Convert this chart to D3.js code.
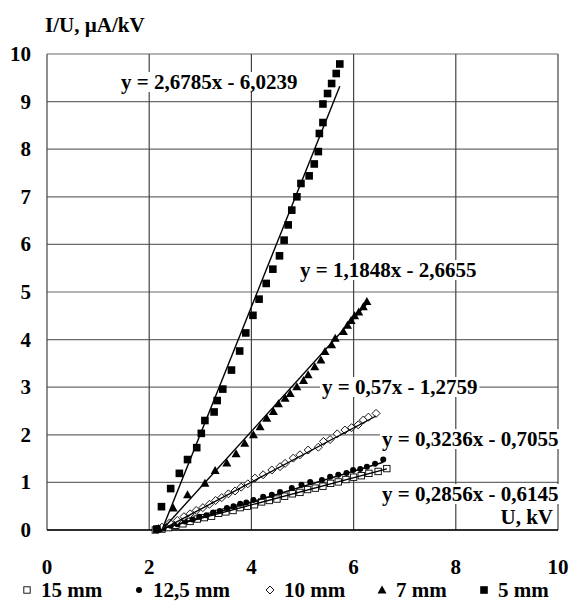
<!DOCTYPE html>
<html>
<head>
<meta charset="utf-8">
<script src="https://cdn.jsdelivr.net/npm/d3@7/dist/d3.min.js"></script>
<style>
  body { margin: 0; background: #fff; }
  text { font-family: "Liberation Serif", "Times New Roman", serif; font-weight: bold; fill: #000; }
</style>
</head>
<body>
<svg id="chart" width="571" height="601"></svg>
<script>
// series (U in kV, I/U in uA/kV)
var names = ["15 mm", "12,5 mm", "10 mm", "7 mm", "5 mm"];
var symbols = ["squareOpen", "circle", "diamondOpen", "triangle", "square"];

var u15 = [2.12,2.25,2.38,2.52,2.66,2.80,2.94,3.08,3.22,3.36,3.50,3.64,3.78,3.92,4.06,4.20,4.35,4.50,4.65,4.80,4.95,5.10,5.25,5.40,5.55,5.70,5.85,6.00,6.15,6.30,6.48,6.65];
var v15 = [0.00,0.02,0.05,0.10,0.13,0.18,0.23,0.26,0.29,0.35,0.38,0.41,0.47,0.50,0.53,0.59,0.62,0.65,0.71,0.76,0.79,0.85,0.88,0.92,0.98,1.01,1.06,1.11,1.14,1.19,1.23,1.29];

var u125 = [2.15,2.28,2.42,2.55,2.70,2.85,2.98,3.12,3.25,3.38,3.52,3.65,3.78,3.90,4.04,4.23,4.40,4.56,4.79,4.98,5.15,5.38,5.54,5.70,5.86,5.99,6.13,6.26,6.42,6.58];
var v125 = [0.00,0.03,0.09,0.12,0.18,0.22,0.28,0.31,0.37,0.40,0.46,0.50,0.55,0.58,0.63,0.70,0.74,0.80,0.88,0.95,1.01,1.05,1.12,1.16,1.20,1.26,1.28,1.33,1.39,1.48];

var u10 = [2.15,2.25,2.40,2.55,2.68,2.80,2.92,3.05,3.18,3.30,3.42,3.55,3.68,3.80,3.93,4.07,4.23,4.40,4.56,4.66,4.82,4.95,5.11,5.31,5.41,5.54,5.68,5.83,5.96,6.09,6.19,6.29,6.44];
var v10 = [0.02,0.06,0.15,0.20,0.28,0.34,0.41,0.47,0.54,0.62,0.68,0.76,0.82,0.90,0.97,1.09,1.16,1.26,1.33,1.40,1.51,1.58,1.68,1.74,1.86,1.90,2.02,2.10,2.15,2.21,2.31,2.37,2.45];

var u7 = [2.18,2.47,2.75,3.09,3.29,3.52,3.70,3.87,4.04,4.17,4.30,4.43,4.53,4.66,4.76,4.89,5.02,5.11,5.24,5.36,5.44,5.57,5.64,5.80,5.88,5.95,6.02,6.10,6.19,6.26];
var v7 = [0.03,0.46,0.74,0.98,1.25,1.41,1.60,1.82,2.00,2.17,2.35,2.49,2.65,2.77,2.87,3.01,3.14,3.26,3.43,3.57,3.75,3.89,4.03,4.17,4.30,4.40,4.50,4.58,4.69,4.80];

var u5 = [2.15,2.24,2.42,2.59,2.75,2.93,3.02,3.09,3.27,3.33,3.44,3.61,3.77,3.89,4.03,4.15,4.29,4.42,4.55,4.64,4.72,4.79,4.89,4.97,5.13,5.23,5.31,5.33,5.40,5.40,5.49,5.57,5.66,5.73];
var v5 = [0.02,0.49,0.87,1.19,1.48,1.73,2.03,2.30,2.48,2.72,2.96,3.36,3.76,4.14,4.51,4.85,5.18,5.48,5.76,6.09,6.41,6.72,7.00,7.28,7.44,7.69,7.95,8.33,8.56,8.95,9.17,9.38,9.59,9.79];

// linear trendlines as printed on the chart
var slopes = [0.2856, 0.3236, 0.57, 1.1848, 2.6785];
var intercepts = [-0.6145, -0.7055, -1.2759, -2.6655, -6.0239];
var equations = ["y = 0,2856x - 0,6145", "y = 0,3236x - 0,7055", "y = 0,57x - 1,2759", "y = 1,1848x - 2,6655", "y = 2,6785x - 6,0239"];

var xTicks = [0, 2, 4, 6, 8, 10];
var yTicks = [0, 1, 2, 3, 4, 5, 6, 7, 8, 9, 10];

var us = [u15, u125, u10, u7, u5];
var vs = [v15, v125, v10, v7, v5];

var svg = d3.select("#chart");
var plotLeft = 47, plotRight = 558, plotTop = 54, plotBottom = 530;
var fontSize = 21;

var xScale = d3.scaleLinear().domain([0, 10]).range([plotLeft, plotRight]);
var yScale = d3.scaleLinear().domain([0, 10]).range([plotBottom, plotTop]);

// grid
svg.append("g").selectAll("line")
  .data(yTicks)
  .enter().append("line")
    .attr("x1", plotLeft).attr("x2", plotRight)
    .attr("y1", function(d){ return yScale(d); })
    .attr("y2", function(d){ return yScale(d); })
    .attr("stroke", "#6a6a6a")
    .attr("stroke-width", 1.2);

svg.append("g").selectAll("line")
  .data(xTicks)
  .enter().append("line")
    .attr("x1", function(d){ return xScale(d); })
    .attr("x2", function(d){ return xScale(d); })
    .attr("y1", plotTop).attr("y2", plotBottom)
    .attr("stroke", "#444")
    .attr("stroke-width", 1.2);

svg.append("line")
  .attr("x1", plotLeft).attr("x2", plotRight)
  .attr("y1", plotBottom).attr("y2", plotBottom)
  .attr("stroke", "#000").attr("stroke-width", 1.5);

// tick labels
svg.append("g").selectAll("text")
  .data(yTicks)
  .enter().append("text")
    .attr("x", 31)
    .attr("y", function(d){ return yScale(d) + 7; })
    .attr("text-anchor", "end")
    .attr("font-size", fontSize)
    .text(function(d){ return d; });

svg.append("g").selectAll("text")
  .data(xTicks)
  .enter().append("text")
    .attr("x", function(d){ return xScale(d); })
    .attr("y", 574)
    .attr("text-anchor", "middle")
    .attr("font-size", fontSize)
    .text(function(d){ return d; });

// clip for trendlines
svg.append("clipPath").attr("id", "plotclip")
  .append("rect")
    .attr("x", plotLeft).attr("y", plotTop)
    .attr("width", plotRight - plotLeft).attr("height", plotBottom - plotTop);

var line = d3.line()
  .x(function(d){ return xScale(d[0]); })
  .y(function(d){ return yScale(d[1]); });

var markerFns = {
  squareOpen: function(g, x, y){ g.append("rect").attr("x", x-3.2).attr("y", y-3.2).attr("width", 6.4).attr("height", 6.4).attr("fill", "#fff").attr("stroke", "#000").attr("stroke-width", 0.9); },
  circle: function(g, x, y){ g.append("circle").attr("cx", x).attr("cy", y).attr("r", 3).attr("fill", "#000"); },
  diamondOpen: function(g, x, y){ g.append("path").attr("d", "M" + x + "," + (y-4) + "L" + (x+4) + "," + y + "L" + x + "," + (y+4) + "L" + (x-4) + "," + y + "Z").attr("fill", "#fff").attr("stroke", "#000").attr("stroke-width", 0.9); },
  triangle: function(g, x, y){ g.append("path").attr("d", "M" + x + "," + (y-4.5) + "L" + (x+4.5) + "," + (y+3.5) + "L" + (x-4.5) + "," + (y+3.5) + "Z").attr("fill", "#000"); },
  square: function(g, x, y){ g.append("rect").attr("x", x-3.8).attr("y", y-3.8).attr("width", 7.6).attr("height", 7.6).attr("fill", "#000"); }
};

// points and trendlines, 15 mm first so 5 mm is drawn on top
for(var i = 0; i < names.length; i++){
  var g = svg.append("g").attr("class", "series");
  for(var j = 0; j < us[i].length; j++){
    markerFns[symbols[i]](g, xScale(us[i][j]), yScale(vs[i][j]));
  }
  var x0 = d3.min(us[i]), x1 = d3.max(us[i]);
  svg.append("path")
    .datum([[x0, slopes[i]*x0 + intercepts[i]], [x1, slopes[i]*x1 + intercepts[i]]])
    .attr("clip-path", "url(#plotclip)")
    .attr("d", line)
    .attr("fill", "none")
    .attr("stroke", "#000")
    .attr("stroke-width", 1.4);
}

// equation labels with white boxes
var eqX = [382, 382, 322, 300, 121];
var eqY = [501, 446, 394, 277, 89];
for(var i = 0; i < equations.length; i++){
  var t = svg.append("text")
    .attr("x", eqX[i])
    .attr("y", eqY[i])
    .attr("font-size", fontSize)
    .text(equations[i]);
  var bb = t.node().getBBox();
  svg.insert("rect", function(){ return t.node(); })
    .attr("x", bb.x - 2).attr("y", bb.y + 2)
    .attr("width", bb.width + 4).attr("height", bb.height - 4)
    .attr("fill", "#fff");
}

// axis titles
var ux = svg.append("text")
  .attr("x", 553).attr("y", 524)
  .attr("text-anchor", "end")
  .attr("font-size", fontSize)
  .text("U, kV");
var ub = ux.node().getBBox();
svg.insert("rect", function(){ return ux.node(); })
  .attr("x", ub.x - 3).attr("y", ub.y + 2)
  .attr("width", ub.width + 3).attr("height", ub.height - 4)
  .attr("fill", "#fff");

svg.append("text")
  .attr("x", 45).attr("y", 32)
  .attr("font-size", fontSize)
  .text("I/U, \u00b5A/kV");

// legend
var legendX = [27, 139, 270, 382, 484];
var legend = svg.append("g");
for(var i = 0; i < names.length; i++){
  markerFns[symbols[i]](legend, legendX[i], 590);
  legend.append("text")
    .attr("x", legendX[i] + 14)
    .attr("y", 597)
    .attr("font-size", fontSize)
    .text(names[i]);
}
</script>
</body>
</html>
